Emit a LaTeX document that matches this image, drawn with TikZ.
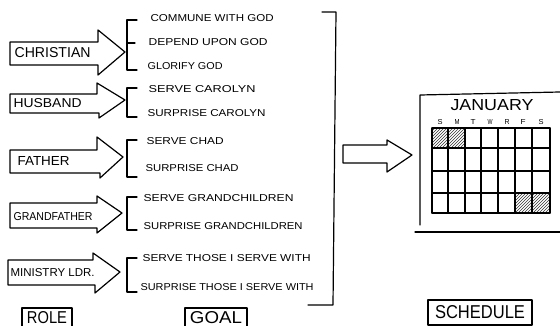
\documentclass[tikz,border=0pt]{standalone}
\usepackage{fontspec}
\usepackage{graphicx}
\usetikzlibrary{patterns}
\newfontfamily\hand{Liberation Sans}
\newcommand\fitt[3]{\resizebox{#1pt}{#2pt}{\hand #3}}
\begin{document}
\begin{tikzpicture}[x=1pt,y=-1pt,line width=1.2pt,line join=round,line cap=round,
  txt/.style={inner sep=0pt,anchor=west},
  lbl/.style={draw,inner sep=0pt},
  hatch/.style={pattern=north east lines,pattern color=black!80}]
\useasboundingbox (0,0) rectangle (560,326);
% ---- role arrows ----
\draw (10,42)--(98,42)--(98,30)--(125,52)--(98,75)--(98,65)--(10,65)--cycle;
\draw (10,94)--(97,94)--(97,83)--(125,100)--(99,118)--(99,113)--(10,113)--cycle;
\draw (10,150)--(97,150)--(97,137)--(123,157)--(100,178)--(100,173)--(10,173)--cycle;
\draw (10,203)--(97,203)--(97,196)--(122,213)--(97,233)--(97,228)--(10,228)--cycle;
\draw (8,260)--(93,260)--(93,253)--(120,272)--(95,293)--(95,285)--(8,285)--cycle;
\node[txt] (christian) at (14,53) {\fitt{76}{10}{CHRISTIAN}};
\node[txt] (husband) at (13,103) {\fitt{68}{9}{HUSBAND}};
\node[txt] (father) at (17,161) {\fitt{52}{9}{FATHER}};
\node[txt] (grandfather) at (13,217) {\fitt{79}{8}{GRANDFATHER}};
\node[txt] (ministry) at (10,273) {\fitt{84}{8}{MINISTRY LDR.}};
% ---- brackets ----
\draw (137,20)--(127,20)--(127,70)--(137,70); \draw (127,43)--(135,43);
\draw (137,88)--(127,88)--(127,117)--(137,117);
\draw (137,140)--(127,140)--(127,177)--(137,177);
\draw (137,197)--(127,197)--(127,230)--(137,230);
\draw (137,258)--(127,258)--(127,292)--(137,292);
% ---- goals ----
\node[txt] (g1) at (150,18) {\fitt{123}{7}{COMMUNE WITH GOD}};
\node[txt] (g2) at (148,42) {\fitt{119}{7}{DEPEND UPON GOD}};
\node[txt] (g3) at (147,66) {\fitt{75}{7}{GLORIFY GOD}};
\node[txt] (g4) at (148,89) {\fitt{107}{7}{SERVE CAROLYN}};
\node[txt] (g5) at (147,113) {\fitt{118}{7}{SURPRISE CAROLYN}};
\node[txt] (g6) at (146,141) {\fitt{77}{7}{SERVE CHAD}};
\node[txt] (g7) at (145,168) {\fitt{93}{7}{SURPRISE CHAD}};
\node[txt] (g8) at (143,198) {\fitt{150}{7}{SERVE GRANDCHILDREN}};
\node[txt] (g9) at (143,226) {\fitt{159}{7}{SURPRISE GRANDCHILDREN}};
\node[txt] (g10) at (142,258) {\fitt{168}{7}{SERVE THOSE I SERVE WITH}};
\node[txt] (g11) at (140,287) {\fitt{173}{7}{SURPRISE THOSE I SERVE WITH}};
% ---- big bracket ----
\draw (322,12)--(336,12)--(333,305)--(308,305);
% ---- middle arrow ----
\draw (343,145)--(387,145)--(387,140)--(412,155)--(387,172)--(387,163)--(343,163)--cycle;
% ---- calendar ----
\draw (420,225)--(420,95)--(560,92);
\draw (415,232)--(560,232);
\node (jan) at (492,105) {\fitt{83}{11}{JANUARY}};
\foreach \l/\x in {S/440,M/457,T/473,W/490,R/507,F/523,S/541}
  \node[inner sep=0pt] at (\x,122) {\fitt{5}{5}{\l}};
\fill[hatch] (432,128) rectangle (465,148);
\fill[hatch] (515,193) rectangle (550,213);
\foreach \x in {432,448,465,481,498,515,532,550} \draw (\x,128)--(\x,213);
\foreach \y in {128,148,171,193,213} \draw (432,\y)--(550,\y);
% ---- labels ----
\node[lbl,minimum width=50pt,minimum height=19pt] (role) at (47,317.5) {\fitt{40}{12}{ROLE}};
\node[lbl,minimum width=62pt,minimum height=19pt] (goal) at (216,317.5) {\fitt{52}{12}{GOAL}};
\node[lbl,minimum width=104pt,minimum height=25pt] (schedule) at (480,312.5) {\fitt{90}{13}{SCHEDULE}};
\end{tikzpicture}
\end{document}
